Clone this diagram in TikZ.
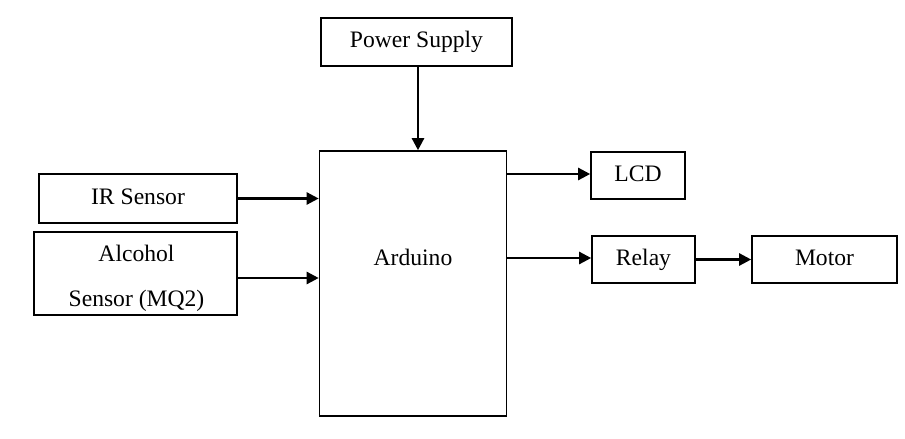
\documentclass[tikz,border=0pt]{standalone}
\usepackage{fontspec}
\setmainfont{Liberation Serif}
\usetikzlibrary{arrows.meta,calc}
\begin{document}
\begin{tikzpicture}[x=1pt,y=-1pt,
  box/.style={draw=black,line width=1.6pt,inner sep=0pt,minimum width=#1},
  txt/.style={font=\fontsize{23.6}{45}\selectfont,text height=16pt,text depth=5pt},
  conn/.style={line width=2.4pt,-{Triangle[length=12pt,width=12pt]}}]
\useasboundingbox (0,0) rectangle (905,439);
\node[box=191pt,minimum height=48pt,txt] (pw) at (416.5,42) {Power Supply};
\node[box=187pt,minimum height=265pt] (ard) at (413,283.5) {};
\node[txt] (ardt) at (413,259.5) {Arduino};
\node[box=198pt,minimum height=49pt,txt] (ir) at (138,198.5) {IR Sensor};
\node[box=203pt,minimum height=83pt] (alc) at (135.5,273.5) {};
\node[font=\fontsize{23.6}{45}\selectfont,align=center] (alct) at ($(alc.center)+(1,5)$) {Alcohol\\Sensor (MQ2)};
\node[box=94pt,minimum height=47pt,txt] (lcd) at (638,175.5) {LCD};
\node[box=103pt,minimum height=47pt,txt] (rel) at (643.5,259.5) {Relay};
\node[box=145pt,minimum height=47pt,txt] (mot) at (824.5,259.5) {Motor};
\draw[conn] ($(pw.south)+(1.5,0)$) -- ($(pw.south |- ard.north)+(1.5,0)$);
\draw[conn] (ir.east) -- (ir.east -| ard.west);
\draw[conn] ($(alc.east)+(0,4.5)$) -- ($(alc.east -| ard.west)+(0,4.5)$);
\draw[conn] ($(ard.east |- lcd.west)+(0,-1.5)$) -- ($(lcd.west)+(0,-1.5)$);
\draw[conn] ($(ard.east |- rel.west)+(0,-1.5)$) -- ($(rel.west)+(0,-1.5)$);
\draw[conn] (rel.east) -- (mot.west);
\end{tikzpicture}
\end{document}
